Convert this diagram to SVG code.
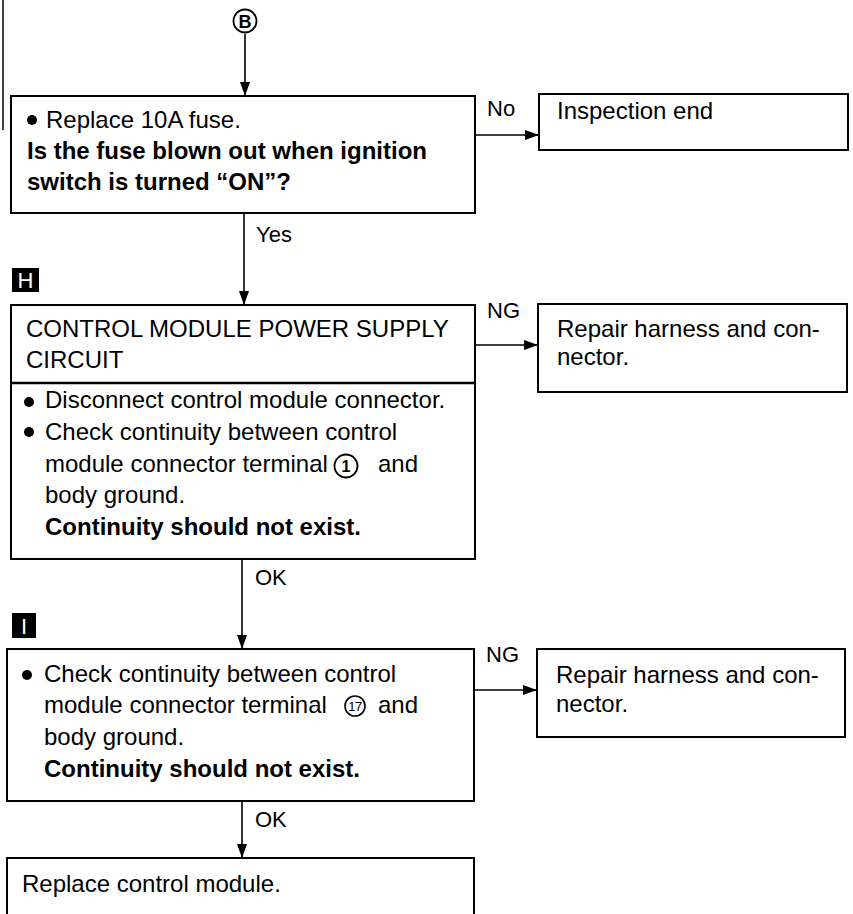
<svg xmlns="http://www.w3.org/2000/svg" width="853" height="914" viewBox="0 0 853 914">
<defs>
<style>
text{font-family:"Liberation Sans",Arial,sans-serif;font-size:24px;fill:#000}
.b{font-weight:bold}
.box{fill:#fff;stroke:#000;stroke-width:2}
.ln{fill:none;stroke:#000;stroke-width:1.6}
.lab{font-size:22px}
.tag{fill:#fff;font-size:22px}
</style>
<marker id="ah" viewBox="0 0 14 10" refX="14" refY="5" markerWidth="14" markerHeight="10" markerUnits="userSpaceOnUse" orient="auto">
<path d="M0,0 L14,5 L0,10 Z" fill="#000"/>
</marker>
</defs>
<rect width="853" height="914" fill="#fff"/>
<line x1="3" y1="0" x2="3" y2="130" stroke="#000" stroke-width="1.5"/>

<g id="connectors">
<line class="ln" x1="245" y1="34" x2="245" y2="96" marker-end="url(#ah)"/>
<line class="ln" x1="475" y1="135" x2="539" y2="135" marker-end="url(#ah)"/>
<line class="ln" x1="244" y1="213" x2="244" y2="305" marker-end="url(#ah)"/>
<line class="ln" x1="475" y1="345" x2="538" y2="345" marker-end="url(#ah)"/>
<line class="ln" x1="242" y1="559" x2="242" y2="649" marker-end="url(#ah)"/>
<line class="ln" x1="474" y1="690" x2="537" y2="690" marker-end="url(#ah)"/>
<line class="ln" x1="242" y1="801" x2="242" y2="858" marker-end="url(#ah)"/>
<text class="lab" x="487" y="116">No</text>
<text class="lab" x="256" y="242">Yes</text>
<text class="lab" x="487" y="318">NG</text>
<text class="lab" x="255" y="585">OK</text>
<text class="lab" x="486" y="662">NG</text>
<text class="lab" x="255" y="827">OK</text>
</g>

<g id="start-B">
<circle cx="245" cy="21" r="11.5" fill="#fff" stroke="#000" stroke-width="1.8"/>
<text class="b" x="245" y="28" font-size="18" text-anchor="middle" style="font-size:18px">B</text>
</g>

<g id="box-fuse">
<rect class="box" x="11" y="96" width="464" height="117"/>
<circle cx="32" cy="120" r="5"/>
<text x="46" y="128">Replace 10A fuse.</text>
<text class="b" x="27" y="159">Is the fuse blown out when ignition</text>
<text class="b" x="27" y="190">switch is turned “ON”?</text>
</g>

<g id="inspection-end">
<rect class="box" x="539" y="94" width="309" height="56"/>
<text x="557" y="119">Inspection end</text>
</g>

<g id="tag-H">
<rect x="12" y="268" width="27" height="24" fill="#000"/>
<text class="tag" x="25.5" y="288" text-anchor="middle">H</text>
</g>

<g id="box-power-supply">
<rect class="box" x="11" y="305" width="464" height="254"/>
<line x1="11" y1="383" x2="475" y2="383" stroke="#000" stroke-width="2.4"/>
<text x="26" y="337">CONTROL MODULE POWER SUPPLY</text>
<text x="26" y="368">CIRCUIT</text>
<circle cx="29" cy="402" r="5"/>
<text x="45" y="408">Disconnect control module connector.</text>
<circle cx="29" cy="432" r="5"/>
<text x="45" y="440">Check continuity between control</text>
<text x="45" y="472">module connector terminal</text>
<circle cx="346" cy="466" r="11.5" fill="none" stroke="#000" stroke-width="1.8"/>
<text class="b" x="346" y="472" text-anchor="middle" style="font-size:16px">1</text>
<text x="378" y="472">and</text>
<text x="45" y="503">body ground.</text>
<text class="b" x="45" y="535">Continuity should not exist.</text>
</g>

<g id="repair-1">
<rect class="box" x="538" y="304" width="309" height="88"/>
<text x="557" y="337">Repair harness and con-</text>
<text x="557" y="365">nector.</text>
</g>

<g id="tag-I">
<rect x="12" y="613" width="24" height="25" fill="#000"/>
<text class="tag" x="24" y="634" text-anchor="middle">I</text>
</g>

<g id="box-terminal-17">
<rect class="box" x="7" y="649" width="467" height="152"/>
<circle cx="27" cy="675" r="5"/>
<text x="44" y="682">Check continuity between control</text>
<text x="44" y="713">module connector terminal</text>
<circle cx="355" cy="706" r="10" fill="none" stroke="#000" stroke-width="1.6"/>
<text x="355" y="711" text-anchor="middle" style="font-size:13px" letter-spacing="-0.5">17</text>
<text x="378" y="713">and</text>
<text x="44" y="745">body ground.</text>
<text class="b" x="44" y="777">Continuity should not exist.</text>
</g>

<g id="repair-2">
<rect class="box" x="537" y="649" width="308" height="88"/>
<text x="556" y="683">Repair harness and con-</text>
<text x="556" y="712">nector.</text>
</g>

<g id="replace-module">
<path class="box" d="M7,915 V858 H474 V915" fill="#fff"/>
<text x="22" y="892">Replace control module.</text>
</g>
</svg>
